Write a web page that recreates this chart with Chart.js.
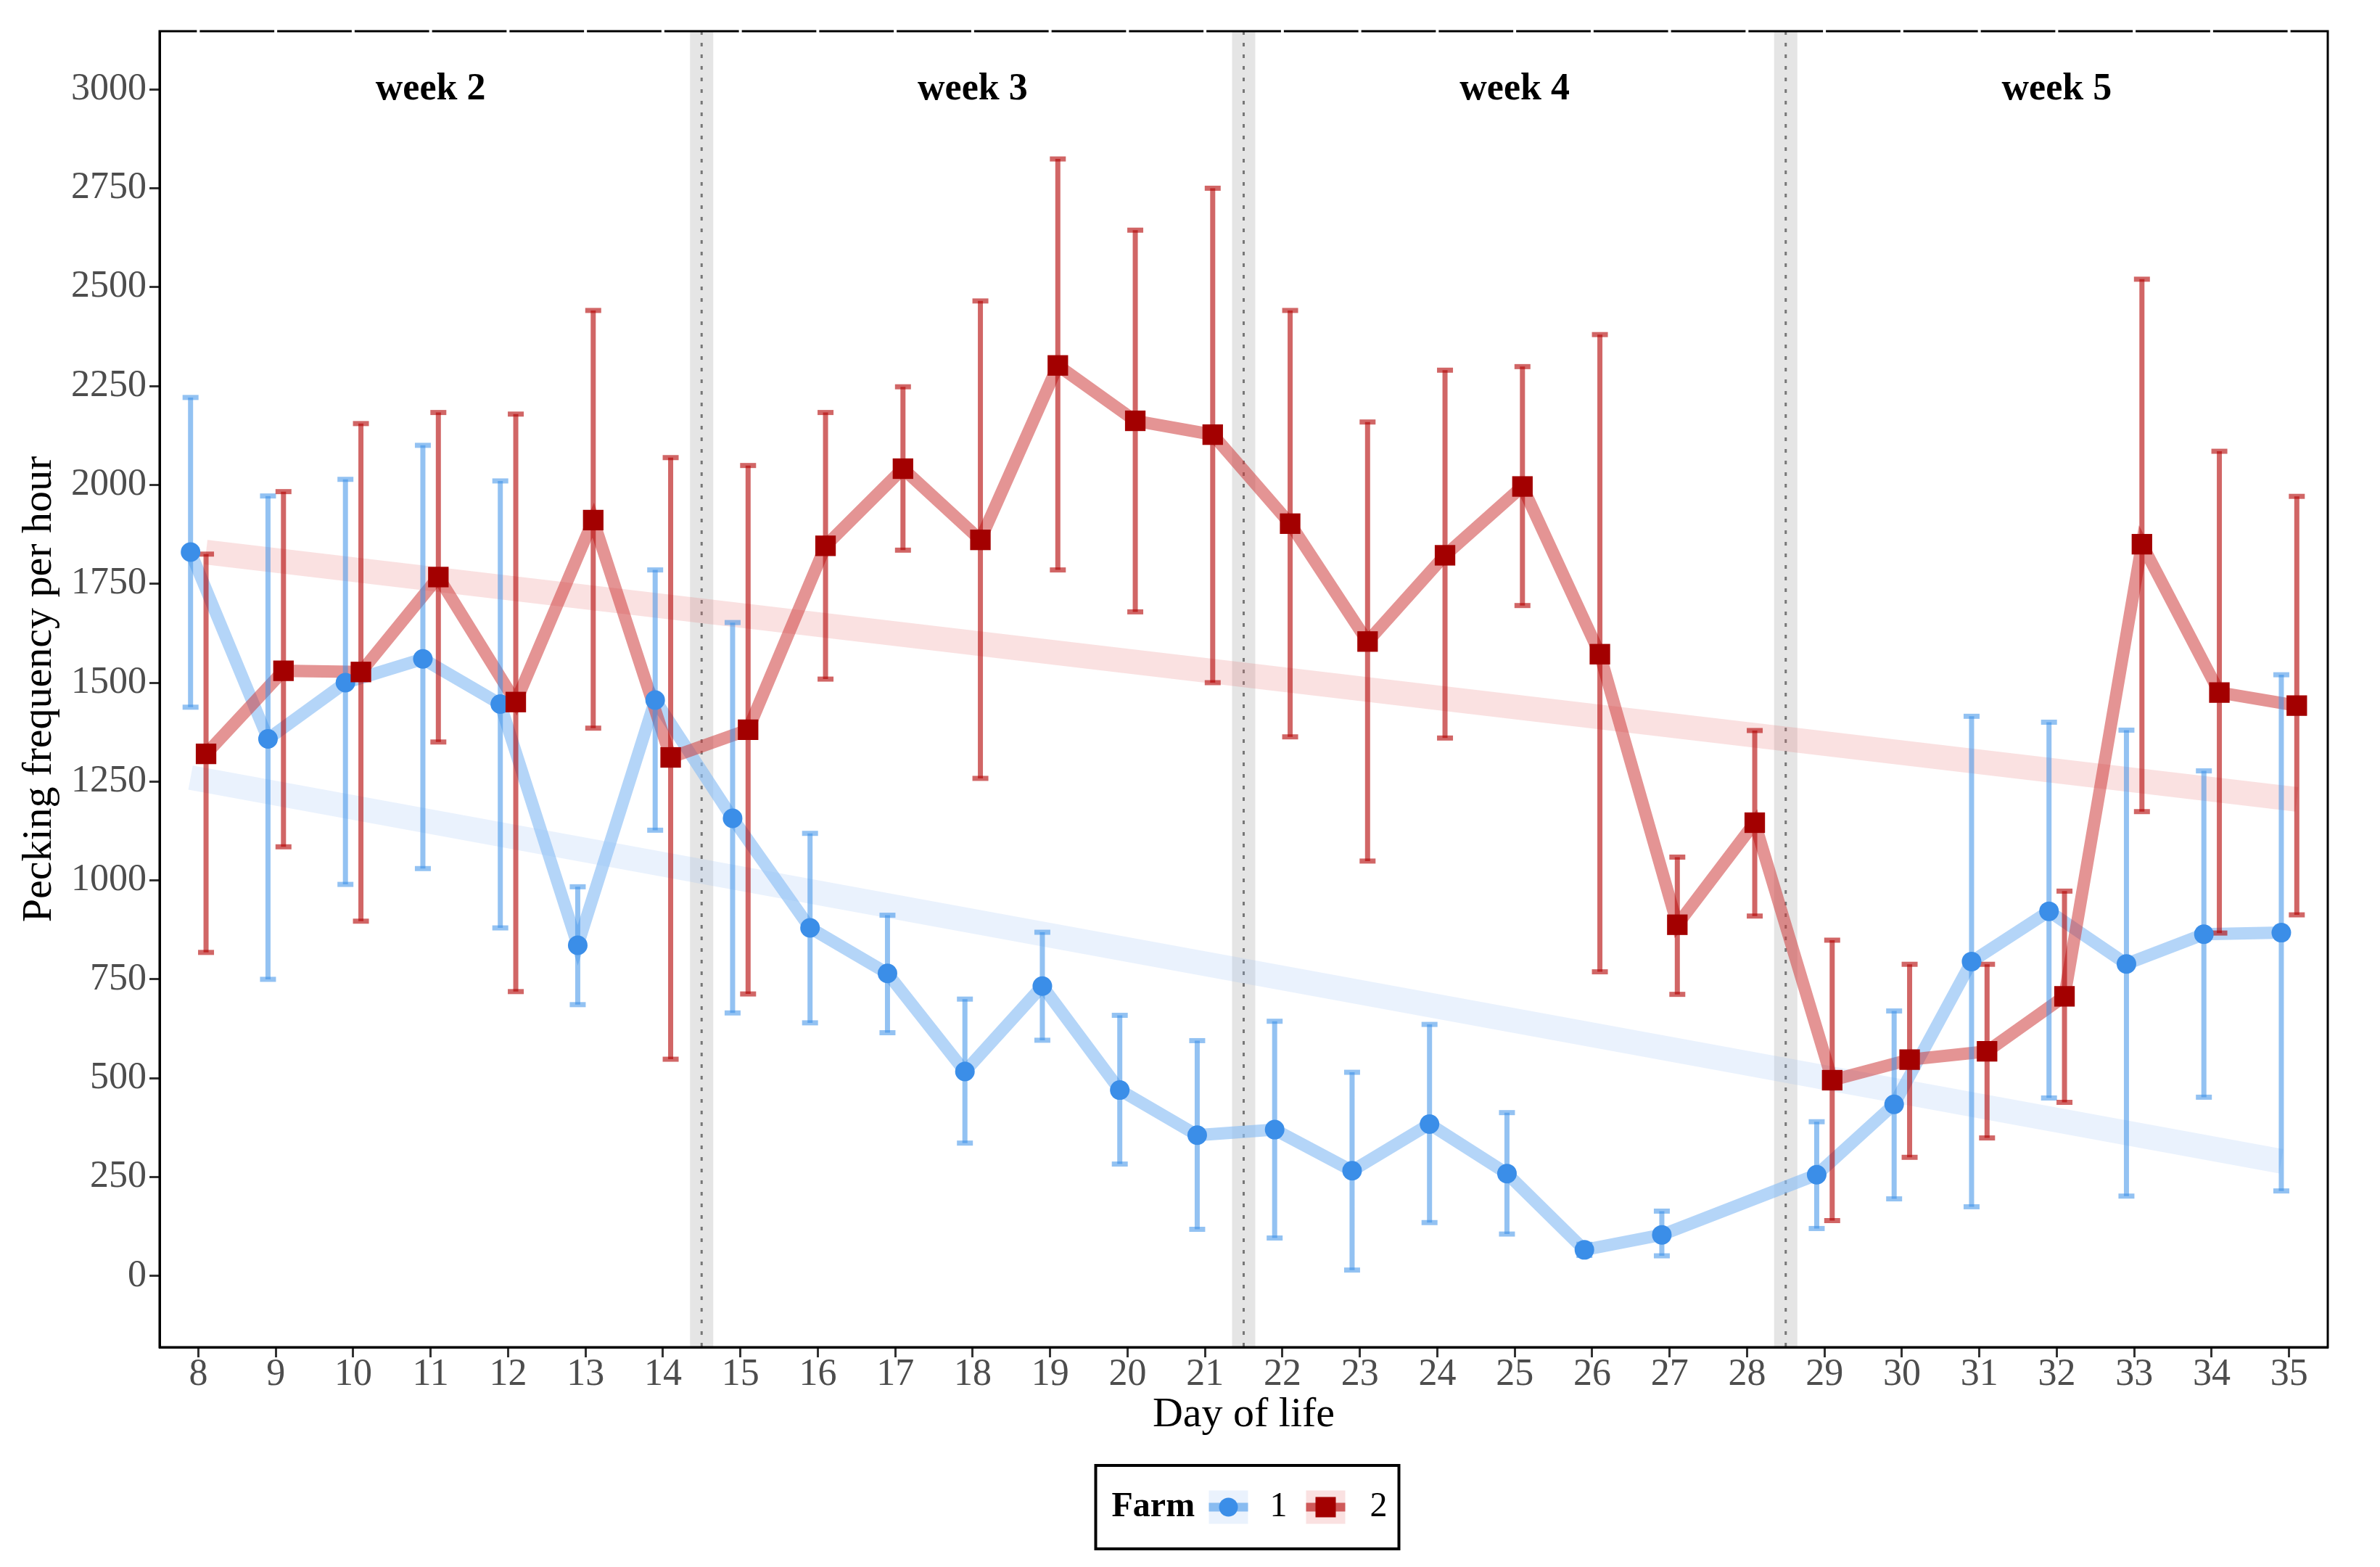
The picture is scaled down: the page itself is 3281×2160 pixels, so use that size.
<!DOCTYPE html>
<html>
<head>
<meta charset="utf-8">
<script src="https://cdn.jsdelivr.net/npm/chart.js@4.4.1/dist/chart.umd.min.js"></script>
<style>
  html, body { margin: 0; padding: 0; background: #fff; }
  canvas { display: block; }
</style>
</head>
<body>
<canvas id="chart" width="3281" height="2160"></canvas>
<script>
// farm 1 (no observation on day 28)
const days1 = [8, 9, 10, 11, 12, 13, 14, 15, 16, 17, 18, 19, 20, 21, 22, 23, 24, 25, 26, 27, 29, 30, 31, 32, 33, 34, 35]
const mean1 = [1830, 1358, 1500, 1560, 1446, 836, 1456, 1157, 880, 765, 517, 733, 470, 356, 370, 266, 384, 259, 66, 104, 256, 434, 795, 922, 789, 864, 868]
const lo1 = [1438, 750, 990, 1030, 880, 686, 1127, 665, 640, 615, 336, 596, 283, 118, 96, 15, 135, 106, 52, 51, 120, 195, 175, 450, 202, 452, 215]
const hi1 = [2221, 1972, 2014, 2100, 2010, 984, 1785, 1652, 1119, 912, 700, 869, 659, 595, 644, 515, 636, 413, 80, 164, 390, 670, 1415, 1400, 1380, 1277, 1520]

// farm 2
const days2 = [8, 9, 10, 11, 12, 13, 14, 15, 16, 17, 18, 19, 20, 21, 22, 23, 24, 25, 26, 27, 28, 29, 30, 31, 32, 33, 34, 35]
const mean2 = [1320, 1530, 1527, 1767, 1451, 1911, 1311, 1381, 1846, 2041, 1861, 2302, 2162, 2127, 1902, 1604, 1822, 1996, 1572, 888, 1146, 495, 547, 568, 707, 1850, 1475, 1442]
const lo2 = [818, 1085, 897, 1350, 719, 1385, 548, 713, 1509, 1835, 1258, 1785, 1679, 1500, 1363, 1049, 1360, 1695, 769, 712, 910, 140, 300, 349, 439, 1174, 867, 913]
const hi2 = [1825, 1983, 2155, 2183, 2179, 2441, 2069, 2049, 2183, 2248, 2465, 2824, 2644, 2750, 2441, 2159, 2290, 2299, 2380, 1059, 1379, 849, 788, 788, 973, 2520, 2085, 1971]

// linear trends
const trendX1 = [7.9, 34.9]
const trendY1 = [1260, 290]
const trendX2 = [8.1, 35.1]
const trendY2 = [1830, 1205]

const weekBreaks = [14.5, 21.5, 28.5]
const weekCenters = [11, 18, 25, 32]
const weekLabels = ['week 2', 'week 3', 'week 4', 'week 5']
const weekLabelY = 3000

const xTicks = [8, 9, 10, 11, 12, 13, 14, 15, 16, 17, 18, 19, 20, 21, 22, 23, 24, 25, 26, 27, 28, 29, 30, 31, 32, 33, 34, 35]
const yTicks = [0, 250, 500, 750, 1000, 1250, 1500, 1750, 2000, 2250, 2500, 2750, 3000]

const dodge = 0.1
const serif = "'Liberation Serif', 'Times New Roman', serif"

const blue = '#3b8ee8'
const blueLine = 'rgba(140,190,245,0.65)'
const blueBar = 'rgba(58,143,232,0.55)'
const blueBand = 'rgba(150,190,245,0.2)'
const red = '#a30000'
const redLine = 'rgba(205,60,60,0.55)'
const redBar = 'rgba(178,0,0,0.6)'
const redBand = 'rgba(230,120,120,0.22)'

function pts(days, vals, shift) {
  return days.map((d, i) => ({x: d + shift, y: vals[i]}))
}
function bars(days, lo, hi, shift) {
  const out = []
  days.forEach((d, i) => {
    out.push({x: d + shift, y: lo[i]}, {x: d + shift, y: hi[i]}, {x: d + shift, y: null})
  })
  return out
}
function caps(days, lo, hi, shift) {
  const out = []
  days.forEach((d, i) => {
    out.push({x: d + shift, y: lo[i]}, {x: d + shift, y: hi[i]})
  })
  return out
}
function trend(xs, ys) {
  return xs.map((x, i) => ({x: x, y: ys[i]}))
}

const weeksPlugin = {
  id: 'weeks',
  beforeDatasetsDraw(chart) {
    const {ctx, chartArea, scales} = chart
    const xs = scales.x, ys = scales.y
    ctx.save()
    weekBreaks.forEach(b => {
      const x0 = xs.getPixelForValue(b - 0.15)
      const x1 = xs.getPixelForValue(b + 0.15)
      ctx.fillStyle = '#e5e5e5'
      ctx.fillRect(x0, chartArea.top, x1 - x0, chartArea.bottom - chartArea.top)
      const xm = xs.getPixelForValue(b)
      ctx.setLineDash([5, 11])
      ctx.strokeStyle = '#777'
      ctx.lineWidth = 3
      ctx.beginPath()
      ctx.moveTo(xm, chartArea.top)
      ctx.lineTo(xm, chartArea.bottom)
      ctx.stroke()
    })
    ctx.setLineDash([])
    ctx.fillStyle = '#000'
    ctx.font = 'bold 52px ' + serif
    ctx.textAlign = 'center'
    ctx.textBaseline = 'middle'
    weekCenters.forEach((c, i) => {
      ctx.fillText(weekLabels[i], xs.getPixelForValue(c), ys.getPixelForValue(weekLabelY))
    })
    ctx.restore()
  },
  afterDraw(chart) {
    const {ctx, chartArea, scales} = chart
    ctx.save()
    // panel frame
    ctx.strokeStyle = '#000'
    ctx.lineWidth = 3
    ctx.strokeRect(chartArea.left, chartArea.top, chartArea.right - chartArea.left, chartArea.bottom - chartArea.top)
    // small breaks in the top edge at each day
    ctx.fillStyle = '#fff'
    xTicks.forEach(v => {
      ctx.fillRect(scales.x.getPixelForValue(v) - 2, chartArea.top - 2, 4, 4)
    })

    // legend box
    const cx = (chartArea.left + chartArea.right) / 2 + 5
    const bx = cx - 209, by = 2020, bw = 418, bh = 115
    ctx.lineWidth = 4
    ctx.strokeRect(bx, by, bw, bh)
    const my = by + bh / 2
    ctx.fillStyle = '#000'
    ctx.textBaseline = 'middle'
    ctx.textAlign = 'left'
    ctx.font = 'bold 48px ' + serif
    ctx.fillText('Farm', bx + 22, my)
    ctx.font = '48px ' + serif
    ctx.fillText('1', bx + 240, my)
    ctx.fillText('2', bx + 378, my)

    // keys
    const keys = [
      {x: bx + 156, band: blueBand, line: blueBar, fill: blue, circle: true},
      {x: bx + 290, band: redBand, line: redBar, fill: red, circle: false}
    ]
    keys.forEach(k => {
      ctx.fillStyle = k.band
      ctx.fillRect(k.x, my - 23, 54, 46)
      ctx.fillStyle = k.line
      ctx.fillRect(k.x, my - 6, 54, 12)
      ctx.fillStyle = k.fill
      if (k.circle) {
        ctx.beginPath()
        ctx.arc(k.x + 27, my, 13, 0, Math.PI * 2)
        ctx.fill()
      } else {
        ctx.fillRect(k.x + 13, my - 14, 28, 28)
      }
    })
    ctx.restore()
  }
}

const datasets = [
  // trend bands
  {data: trend(trendX1, trendY1), borderColor: blueBand, borderWidth: 34, pointRadius: 0, borderCapStyle: 'butt', order: 9},
  {data: trend(trendX2, trendY2), borderColor: redBand, borderWidth: 34, pointRadius: 0, borderCapStyle: 'butt', order: 8},
  // connecting lines
  {data: pts(days1, mean1, -dodge), borderColor: blueLine, borderWidth: 17, pointRadius: 0, order: 7},
  {data: pts(days2, mean2, dodge), borderColor: redLine, borderWidth: 17, pointRadius: 0, order: 6},
  // error bars
  {data: bars(days1, lo1, hi1, -dodge), borderColor: blueBar, borderWidth: 7, pointRadius: 0, spanGaps: false, order: 5},
  {data: bars(days2, lo2, hi2, dodge), borderColor: redBar, borderWidth: 7, pointRadius: 0, spanGaps: false, order: 4},
  {data: caps(days1, lo1, hi1, -dodge), showLine: false, pointStyle: 'line', pointRadius: 11, pointBorderWidth: 7, pointBorderColor: blueBar, order: 3},
  {data: caps(days2, lo2, hi2, dodge), showLine: false, pointStyle: 'line', pointRadius: 11, pointBorderWidth: 7, pointBorderColor: redBar, order: 2},
  // means
  {data: pts(days1, mean1, -dodge), showLine: false, pointStyle: 'circle', pointRadius: 13.5, pointBorderWidth: 0, pointBackgroundColor: blue, order: 1},
  {data: pts(days2, mean2, dodge), showLine: false, pointStyle: 'rect', pointRadius: 20, pointBorderWidth: 0, pointBackgroundColor: red, order: 0}
]

Chart.defaults.font.family = serif

new Chart(document.getElementById('chart'), {
  type: 'line',
  data: {datasets: datasets},
  plugins: [weeksPlugin],
  options: {
    responsive: false,
    devicePixelRatio: 1,
    animation: false,
    layout: {padding: {top: 43, right: 72, bottom: 145, left: 0}},
    plugins: {legend: {display: false}, tooltip: {enabled: false}},
    scales: {
      x: {
        type: 'linear',
        min: 7.5,
        max: 35.5,
        afterBuildTicks: s => { s.ticks = xTicks.map(v => ({value: v})) },
        afterFit: s => { s.height = 158 },
        ticks: {color: '#4d4d4d', font: {size: 52}, padding: -7, maxRotation: 0, autoSkip: false, callback: v => String(v)},
        grid: {drawOnChartArea: false, drawTicks: true, tickLength: 14, tickWidth: 3, tickColor: '#333'},
        border: {display: true, color: '#000', width: 3},
        title: {display: true, text: 'Day of life', color: '#000', font: {size: 58}, padding: {top: 0, bottom: 29}}
      },
      y: {
        min: -180,
        max: 3147,
        afterBuildTicks: s => { s.ticks = yTicks.map(v => ({value: v})) },
        afterFit: s => { s.width = 220 },
        ticks: {color: '#4d4d4d', font: {size: 52}, padding: 4, callback: v => String(v)},
        grid: {drawOnChartArea: false, drawTicks: true, tickLength: 14, tickWidth: 3, tickColor: '#333'},
        border: {display: true, color: '#000', width: 3},
        title: {display: true, text: 'Pecking frequency per hour', color: '#000', font: {size: 58}, padding: {top: 20, bottom: 0}}
      }
    }
  }
})
</script>
</body>
</html>
